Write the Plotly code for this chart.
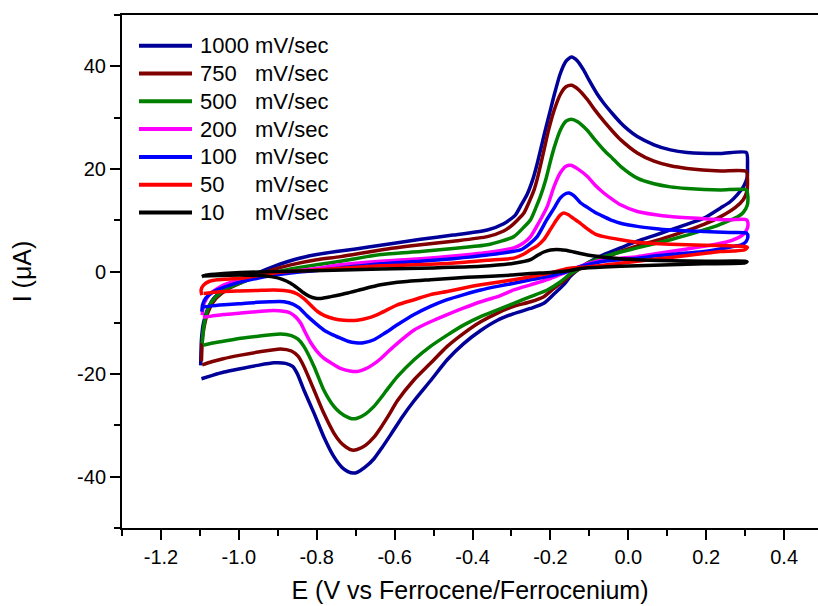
import plotly.graph_objects as go

# ---------------- data ----------------
SCAN_RATES = ["1000", "750", "500", "200", "100", "50", "10"]
RATE_UNIT = "mV/sec"
COLORS = ["#000099", "#800000", "#008000", "#FF00FF", "#0000FF", "#FF0000", "#000000"]

X_TICK_VALS = [-1.2, -1.0, -0.8, -0.6, -0.4, -0.2, 0.0, 0.2, 0.4]
X_TICK_TEXT = ["-1.2", "-1.0", "-0.8", "-0.6", "-0.4", "-0.2", "0.0", "0.2", "0.4"]
X_MINOR_VALS = [-1.3, -1.1, -0.9, -0.7, -0.5, -0.3, -0.1, 0.1, 0.3]
Y_TICK_VALS = [-40, -20, 0, 20, 40]
Y_TICK_TEXT = ["-40", "-20", "0", "20", "40"]
Y_MINOR_VALS = [-50, -30, -10, 10, 30, 50]

# (E in V, I in uA) in scan order: anodic sweep then cathodic sweep
CV_1000 = [(-1.098,-18.3),(-1.096,-13.3),(-1.091,-10.1),(-1.081,-7.5),(-1.064,-5.2),(-1.038,-3.6),(-0.995,-2.0),(-0.952,-0.3),(-0.910,1.0),(-0.859,2.3),(-0.800,3.3),(-0.750,3.9),(-0.700,4.4),(-0.636,5.1),(-0.533,6.3),(-0.450,7.1),(-0.362,8.1),(-0.320,9.3),(-0.290,11.0),(-0.277,12.7),(-0.260,15.0),(-0.245,18.0),(-0.234,21.0),(-0.215,27.0),(-0.200,31.5),(-0.190,34.5),(-0.175,38.5),(-0.160,41.0),(-0.146,41.8),(-0.130,41.0),(-0.115,39.3),(-0.100,37.2),(-0.080,34.6),(-0.063,32.8),(-0.040,30.7),(-0.020,29.0),(0.000,27.6),(0.023,26.3),(0.066,24.7),(0.108,23.7),(0.151,23.2),(0.237,23.0),(0.303,23.2),
           (0.306,20.5),(0.305,18.3),(0.296,16.6),(0.280,15.0),(0.260,13.5),(0.237,12.4),(0.194,10.4),(0.150,9.2),(0.108,8.1),(0.066,7.0),(0.023,5.9),(-0.020,4.6),(-0.063,3.3),(-0.090,2.3),(-0.110,1.4),(-0.130,0.3),(-0.148,-0.9),(-0.165,-2.5),(-0.191,-4.4),(-0.217,-6.2),(-0.251,-7.2),(-0.294,-8.2),(-0.336,-9.5),(-0.379,-11.5),(-0.422,-14.0),(-0.465,-17.2),(-0.508,-21.3),(-0.550,-25.2),(-0.580,-28.3),(-0.610,-31.8),(-0.633,-34.4),(-0.653,-36.5),(-0.675,-38.1),(-0.695,-39.1),(-0.706,-39.3),(-0.720,-39.0),(-0.735,-38.2),(-0.756,-36.1),(-0.782,-32.2),(-0.807,-27.6),(-0.833,-23.1),(-0.850,-19.9),(-0.862,-18.5),(-0.880,-17.9),(-0.910,-17.8),(-0.952,-18.3),(-1.000,-19.0),(-1.038,-19.6),(-1.070,-20.3),(-1.096,-20.9)]

CV_750 = [(-1.096,-17.5),(-1.093,-12.7),(-1.085,-9.3),(-1.075,-7.2),(-1.058,-5.2),(-1.030,-3.5),(-0.995,-2.2),(-0.952,-0.8),(-0.910,0.4),(-0.867,1.3),(-0.800,2.3),(-0.739,2.9),(-0.636,4.2),(-0.533,5.2),(-0.450,5.9),(-0.362,6.8),(-0.320,7.9),(-0.302,8.8),(-0.285,10.0),(-0.268,11.4),(-0.255,13.5),(-0.242,15.9),(-0.234,18.0),(-0.220,22.5),(-0.205,27.5),(-0.191,31.3),(-0.174,34.6),(-0.160,36.0),(-0.146,36.3),(-0.130,35.6),(-0.105,33.5),(-0.085,31.4),(-0.063,29.3),(-0.040,27.3),(-0.020,25.7),(0.023,23.1),(0.066,21.5),(0.108,20.6),(0.151,20.1),(0.237,19.6),(0.303,19.5),
          (0.306,17.5),(0.304,15.5),(0.295,14.0),(0.275,12.5),(0.237,10.7),(0.194,9.2),(0.151,8.0),(0.108,6.9),(0.066,5.9),(0.023,5.0),(-0.020,3.9),(-0.063,2.6),(-0.105,1.3),(-0.130,0.3),(-0.148,-0.6),(-0.165,-1.8),(-0.191,-3.3),(-0.217,-4.9),(-0.251,-5.9),(-0.294,-6.8),(-0.336,-8.1),(-0.379,-9.8),(-0.422,-12.0),(-0.465,-14.6),(-0.508,-17.9),(-0.550,-21.1),(-0.593,-25.2),(-0.615,-28.0),(-0.636,-30.5),(-0.653,-32.3),(-0.675,-33.9),(-0.696,-34.7),(-0.710,-34.8),(-0.725,-34.2),(-0.740,-33.2),(-0.756,-31.5),(-0.782,-27.6),(-0.807,-23.1),(-0.833,-18.5),(-0.848,-16.5),(-0.865,-15.5),(-0.893,-15.1),(-0.950,-15.7),(-0.995,-16.3),(-1.040,-17.0),(-1.070,-17.6),(-1.094,-18.2)]

CV_500 = [(-1.094,-14.0),(-1.092,-12.0),(-1.088,-9.8),(-1.077,-6.8),(-1.060,-5.0),(-1.035,-3.5),(-0.995,-2.2),(-0.952,-1.0),(-0.910,-0.2),(-0.867,0.5),(-0.800,1.3),(-0.739,2.0),(-0.636,3.3),(-0.533,3.9),(-0.450,4.5),(-0.362,5.2),(-0.294,6.8),(-0.270,8.5),(-0.251,10.1),(-0.237,12.5),(-0.226,14.6),(-0.212,17.9),(-0.200,21.5),(-0.191,24.0),(-0.175,27.5),(-0.160,29.3),(-0.147,29.7),(-0.130,29.2),(-0.105,27.5),(-0.085,25.6),(-0.063,23.7),(-0.040,22.0),(-0.020,20.5),(0.023,18.2),(0.066,17.1),(0.108,16.5),(0.151,16.2),(0.237,15.9),(0.303,15.9),
          (0.307,14.5),(0.305,12.8),(0.295,11.5),(0.280,10.6),(0.262,10.0),(0.230,9.0),(0.194,8.1),(0.151,7.1),(0.108,6.2),(0.066,5.4),(0.023,4.6),(-0.020,3.8),(-0.063,2.9),(-0.105,1.6),(-0.130,0.4),(-0.148,-0.4),(-0.174,-2.0),(-0.208,-3.6),(-0.251,-4.9),(-0.294,-6.2),(-0.336,-7.5),(-0.379,-8.8),(-0.422,-10.4),(-0.465,-12.4),(-0.508,-14.6),(-0.550,-17.2),(-0.593,-20.5),(-0.615,-22.6),(-0.636,-24.7),(-0.653,-26.3),(-0.675,-27.8),(-0.696,-28.6),(-0.710,-28.7),(-0.721,-28.4),(-0.740,-27.5),(-0.756,-26.3),(-0.782,-23.1),(-0.807,-18.5),(-0.833,-14.6),(-0.848,-13.2),(-0.865,-12.5),(-0.893,-12.2),(-0.950,-12.6),(-0.995,-13.0),(-1.040,-13.6),(-1.070,-14.0),(-1.092,-14.4)]

CV_200 = [(-1.094,-8.5),(-1.092,-7.0),(-1.088,-6.0),(-1.072,-4.2),(-1.038,-2.6),(-0.995,-1.6),(-0.952,-1.0),(-0.910,-0.4),(-0.867,0.0),(-0.800,0.6),(-0.739,1.3),(-0.636,2.0),(-0.533,2.5),(-0.450,3.0),(-0.362,3.7),(-0.294,4.6),(-0.270,5.5),(-0.251,6.8),(-0.230,9.5),(-0.208,12.7),(-0.191,16.5),(-0.175,19.2),(-0.160,20.5),(-0.148,20.7),(-0.130,20.0),(-0.105,18.5),(-0.085,16.8),(-0.063,15.3),(-0.040,14.0),(-0.020,13.0),(0.023,11.7),(0.066,11.1),(0.108,10.7),(0.194,10.3),(0.260,10.1),(0.303,10.1),
          (0.307,9.5),(0.305,8.3),(0.295,7.2),(0.280,6.5),(0.250,5.7),(0.194,4.9),(0.151,4.4),(0.108,3.9),(0.066,3.4),(0.023,2.9),(-0.020,2.6),(-0.063,2.3),(-0.100,1.6),(-0.123,1.0),(-0.148,0.2),(-0.165,-0.3),(-0.208,-1.6),(-0.251,-2.6),(-0.294,-3.6),(-0.336,-4.9),(-0.379,-5.9),(-0.422,-7.1),(-0.465,-8.4),(-0.508,-9.8),(-0.550,-11.4),(-0.593,-14.0),(-0.615,-15.5),(-0.636,-17.0),(-0.653,-18.0),(-0.675,-19.0),(-0.696,-19.5),(-0.715,-19.4),(-0.739,-18.9),(-0.760,-18.0),(-0.782,-16.9),(-0.800,-15.5),(-0.816,-13.8),(-0.830,-11.8),(-0.841,-10.1),(-0.855,-8.8),(-0.870,-8.0),(-0.910,-7.6),(-0.950,-7.8),(-0.995,-8.1),(-1.040,-8.4),(-1.070,-8.7),(-1.092,-8.9)]

CV_100 = [(-1.095,-7.8),(-1.093,-6.5),(-1.085,-5.2),(-1.064,-3.9),(-1.021,-2.6),(-0.952,-1.3),(-0.867,-0.3),(-0.800,0.2),(-0.739,0.7),(-0.636,1.5),(-0.533,2.0),(-0.450,2.5),(-0.362,3.2),(-0.277,4.2),(-0.255,5.3),(-0.234,6.8),(-0.210,10.0),(-0.191,12.3),(-0.175,14.3),(-0.160,15.2),(-0.152,15.3),(-0.140,14.8),(-0.123,13.4),(-0.105,12.5),(-0.085,11.5),(-0.063,10.7),(-0.040,9.9),(-0.020,9.4),(0.023,8.8),(0.066,8.4),(0.108,8.1),(0.194,7.8),(0.260,7.6),(0.303,7.5),
          (0.307,6.8),(0.302,5.8),(0.290,5.2),(0.271,4.9),(0.235,4.4),(0.194,3.9),(0.151,3.6),(0.108,3.3),(0.066,3.0),(0.023,2.6),(-0.020,2.3),(-0.063,2.0),(-0.100,1.4),(-0.123,1.0),(-0.148,0.3),(-0.165,-0.2),(-0.208,-1.0),(-0.251,-1.6),(-0.294,-2.3),(-0.336,-2.9),(-0.379,-3.6),(-0.422,-4.5),(-0.465,-5.5),(-0.508,-6.8),(-0.550,-8.4),(-0.593,-10.4),(-0.625,-12.0),(-0.653,-13.3),(-0.680,-13.9),(-0.700,-13.9),(-0.720,-13.6),(-0.739,-13.0),(-0.760,-12.3),(-0.782,-11.4),(-0.800,-10.3),(-0.824,-8.7),(-0.845,-7.1),(-0.860,-6.4),(-0.884,-5.9),(-0.920,-5.9),(-0.952,-6.0),(-1.000,-6.3),(-1.038,-6.5),(-1.070,-6.7),(-1.092,-6.9)]

CV_50 = [(-1.095,-4.6),(-1.097,-3.6),(-1.090,-2.6),(-1.075,-1.9),(-1.055,-1.6),(-0.995,-1.3),(-0.950,-0.8),(-0.910,-0.3),(-0.850,0.1),(-0.782,0.4),(-0.636,1.1),(-0.508,1.4),(-0.420,1.8),(-0.362,2.2),(-0.294,2.6),(-0.268,3.4),(-0.250,4.3),(-0.234,5.0),(-0.217,6.2),(-0.200,8.2),(-0.185,10.0),(-0.175,11.0),(-0.166,11.4),(-0.155,11.1),(-0.140,10.3),(-0.123,9.4),(-0.105,8.3),(-0.085,7.3),(-0.063,6.8),(-0.020,6.2),(0.023,5.7),(0.108,5.3),(0.194,5.1),(0.260,5.0),(0.300,4.9),
         (0.306,4.7),(0.298,4.2),(0.270,4.0),(0.237,3.9),(0.151,3.1),(0.066,2.4),(-0.020,1.6),(-0.105,0.9),(-0.130,0.8),(-0.155,0.6),(-0.208,-0.4),(-0.250,-1.0),(-0.294,-1.6),(-0.336,-2.1),(-0.379,-2.6),(-0.422,-3.2),(-0.465,-3.9),(-0.508,-4.5),(-0.550,-5.5),(-0.593,-6.5),(-0.636,-8.1),(-0.665,-9.0),(-0.696,-9.5),(-0.730,-9.5),(-0.756,-9.2),(-0.780,-8.6),(-0.798,-7.8),(-0.815,-6.6),(-0.833,-5.3),(-0.850,-4.4),(-0.867,-3.9),(-0.910,-3.6),(-0.952,-3.7),(-1.000,-3.8),(-1.038,-3.9),(-1.070,-4.1),(-1.090,-4.3)]

CV_10 = [(-1.095,-1.0),(-1.085,-0.7),(-1.040,-0.4),(-0.995,-0.2),(-0.900,0.0),(-0.782,0.2),(-0.636,0.5),(-0.500,0.7),(-0.379,1.0),(-0.294,1.6),(-0.251,2.3),(-0.234,3.1),(-0.217,3.8),(-0.200,4.2),(-0.185,4.3),(-0.170,4.2),(-0.157,4.1),(-0.140,3.8),(-0.123,3.5),(-0.105,3.2),(-0.063,2.8),(0.023,2.3),(0.108,2.1),(0.200,2.0),(0.300,2.0),
         (0.305,1.9),(0.300,1.7),(0.194,1.5),(0.108,1.3),(0.023,1.1),(-0.063,0.9),(-0.123,0.6),(-0.148,0.2),(-0.200,-0.2),(-0.251,-0.4),(-0.300,-0.7),(-0.379,-1.0),(-0.450,-1.3),(-0.508,-1.6),(-0.593,-2.1),(-0.636,-2.6),(-0.680,-3.4),(-0.720,-4.2),(-0.764,-4.9),(-0.785,-5.2),(-0.803,-5.2),(-0.820,-4.8),(-0.835,-4.1),(-0.850,-3.2),(-0.867,-2.3),(-0.890,-1.5),(-0.910,-1.1),(-0.950,-0.8),(-0.995,-0.7),(-1.050,-0.8),(-1.094,-0.9)]

CURVES = [CV_1000, CV_750, CV_500, CV_200, CV_100, CV_50, CV_10]

# ---------------- figure ----------------
FONT = "Liberation Sans, Arial, sans-serif"
W, H = 818, 606
M_L, M_R, M_T, M_B = 122, 0, 15, 78
PW, PH = W - M_L - M_R, H - M_T - M_B

fig = go.Figure()
for rate, color, cv in zip(SCAN_RATES, COLORS, CURVES):
    fig.add_trace(go.Scatter(
        x=[p[0] for p in cv], y=[p[1] for p in cv],
        mode="lines", name=f"{rate} {RATE_UNIT}",
        line=dict(color=color, width=3.5, shape="spline", smoothing=0.6),
        showlegend=False,
    ))

# manual legend (long line samples, aligned unit column)
LEG_X0, LEG_X1, LEG_TX = 139, 192, 198
LEG_Y0, LEG_DY = 45.7, 27.8
def px_x(px):
    return (px - M_L) / PW
def px_y(py):
    return (H - M_B - py) / PH
for i, (rate, color) in enumerate(zip(SCAN_RATES, COLORS)):
    yy = px_y(LEG_Y0 + i * LEG_DY)
    fig.add_shape(type="line", xref="paper", yref="paper",
                  x0=px_x(LEG_X0), x1=px_x(LEG_X1), y0=yy, y1=yy,
                  line=dict(color=color, width=4))
    pad = "\u00a0" * (1 + 2 * (4 - len(rate)))
    fig.add_annotation(xref="paper", yref="paper", x=px_x(LEG_TX), y=yy,
                       text=rate + pad + RATE_UNIT, showarrow=False,
                       xanchor="left", yanchor="middle",
                       font=dict(family=FONT, size=22, color="black"))

axis_common = dict(showgrid=False, zeroline=False, showline=True, linewidth=2,
                   linecolor="black", ticks="outside", ticklen=10, tickwidth=2,
                   tickcolor="black", tickfont=dict(family=FONT, size=20, color="black"))

fig.update_layout(
    width=W, height=H,
    margin=dict(l=M_L, r=M_R, t=M_T, b=M_B, pad=0),
    paper_bgcolor="white", plot_bgcolor="white",
    font=dict(family=FONT, color="black"),
    xaxis=dict(range=[-1.3, 0.487], tickmode="array", tickvals=X_TICK_VALS,
               ticktext=X_TICK_TEXT, mirror=True,
               minor=dict(tickmode="array", tickvals=X_MINOR_VALS, ticklen=6,
                          tickwidth=2, tickcolor="black", ticks="outside"),
               title=dict(text="E (V vs Ferrocene/Ferrocenium)",
                          font=dict(family=FONT, size=25), standoff=14),
               **axis_common),
    yaxis=dict(range=[-50, 50], tickmode="array", tickvals=Y_TICK_VALS,
               ticktext=Y_TICK_TEXT,
               minor=dict(tickmode="array", tickvals=Y_MINOR_VALS, ticklen=6,
                          tickwidth=2, tickcolor="black", ticks="outside"),
               title=dict(text="I (\u03bcA)", font=dict(family=FONT, size=25),
                          standoff=38),
               **axis_common),
    xaxis2=dict(overlaying="x", side="top", anchor="y", range=[-1.3, 0.487],
                showgrid=False, zeroline=False, showline=False,
                showticklabels=False, ticks="outside", ticklen=3, tickwidth=1.5,
                tickcolor="black", tickmode="linear", tick0=-1.3, dtick=0.1),
)

fig.write_html("out.html")
